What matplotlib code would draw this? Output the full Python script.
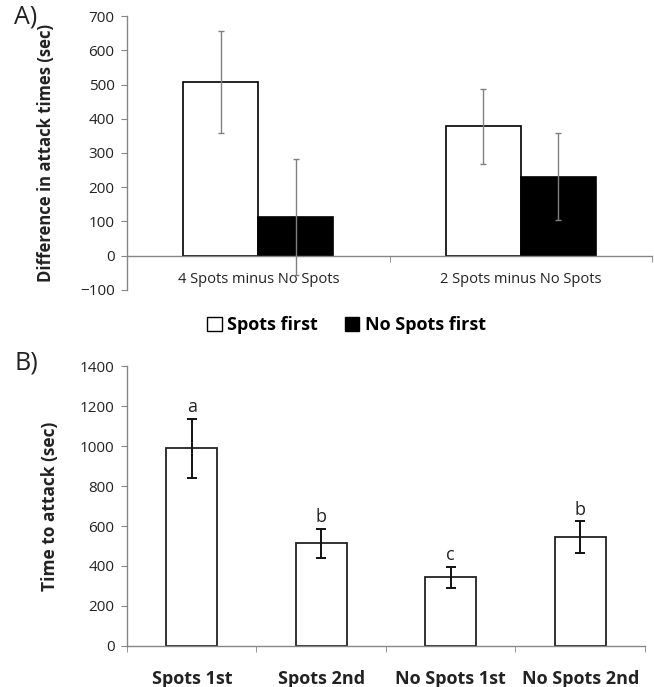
import matplotlib
matplotlib.use("Agg")
import matplotlib.pyplot as plt
from matplotlib.patches import Patch

plt.rcParams['font.family'] = ['Open Sans', 'DejaVu Sans']

# Panel A data
a_groups = ["4 Spots minus No Spots", "2 Spots minus No Spots"]
a_spots_first = [507, 378]
a_spots_first_err = [150, 110]
a_nospots_first = [113, 230]
a_nospots_first_err = [170, 127]

# Panel B data
b_groups = ["Spots 1st", "Spots 2nd", "No Spots 1st", "No Spots 2nd"]
b_values = [988, 514, 344, 545]
b_err = [146, 72, 53, 78]
b_letters = ["a", "b", "c", "b"]

axis_grey = "#868686"
text_col = "#222222"

fig = plt.figure(figsize=(6.54, 6.87), dpi=100)

# ---------- Panel A ----------
ax = fig.add_axes([0.1942, 0.5779, 0.803, 0.3988])
bw = 0.286
centers = [0.5, 1.5]
x1 = [c - bw / 2 for c in centers]
x2 = [c + bw / 2 for c in centers]
ax.bar(x1, a_spots_first, width=bw, color="white", edgecolor="black", linewidth=1.2, zorder=2)
ax.bar(x2, a_nospots_first, width=bw, color="black", edgecolor="black", linewidth=1.2, zorder=2)
ax.errorbar(x1, a_spots_first, yerr=a_spots_first_err, fmt="none", ecolor="#808080",
            elinewidth=1.0, capsize=2.5, capthick=1.0, zorder=3)
ax.errorbar(x2, a_nospots_first, yerr=a_nospots_first_err, fmt="none", ecolor="#808080",
            elinewidth=1.0, capsize=2.5, capthick=1.0, zorder=3)

ax.set_xlim(0, 2)
ax.set_ylim(-100, 700)
ax.set_yticks(range(-100, 701, 100))
ax.spines["top"].set_visible(False)
ax.spines["right"].set_visible(False)
ax.spines["bottom"].set_position(("data", 0))
for s in ["left", "bottom"]:
    ax.spines[s].set_color(axis_grey)
    ax.spines[s].set_linewidth(1.0)
ax.set_xticks([0, 1, 2], minor=True)
ax.set_xticks(centers)
ax.set_xticklabels(a_groups, fontsize=10.5, color=text_col)
ax.tick_params(axis="x", which="major", length=0, pad=12)
ax.tick_params(axis="x", which="minor", length=4, direction="out", color=axis_grey)
ax.tick_params(axis="y", length=4, direction="out", color=axis_grey, labelsize=11,
               labelcolor=text_col, pad=5)
ax.set_ylabel("Difference in attack times (sec)", fontsize=12, fontweight="bold",
              color=text_col, labelpad=18)

handles = [Patch(facecolor="white", edgecolor="black", linewidth=1.0, label="Spots first"),
           Patch(facecolor="black", edgecolor="black", label="No Spots first")]
fig.legend(handles=handles, loc="center", bbox_to_anchor=(0.53, 0.527), ncol=2,
           frameon=False, prop={"weight": "bold", "size": 13}, handlelength=0.8,
           handleheight=0.8, handletextpad=0.3, columnspacing=1.5)

fig.text(0.022, 0.975, "A)", fontsize=18, color=text_col, va="center", ha="left")

# ---------- Panel B ----------
bx = fig.add_axes([0.1942, 0.0597, 0.792, 0.4075])
bpos = [i + 0.5 for i in range(len(b_groups))]
bbw = 0.394
bx.bar(bpos, b_values, width=bbw, color="white", edgecolor="#222222", linewidth=1.3, zorder=2)
bx.errorbar(bpos, b_values, yerr=b_err, fmt="none", ecolor="#111111", elinewidth=1.4,
            capsize=3.5, capthick=1.4, zorder=3)
for p, v, e, let in zip(bpos, b_values, b_err, b_letters):
    bx.annotate(let, (p, v + e), xytext=(0, 2), textcoords="offset points",
                ha="center", va="bottom", fontsize=13, color=text_col)

bx.set_xlim(0, 4)
bx.set_ylim(0, 1400)
bx.set_yticks(range(0, 1401, 200))
bx.spines["top"].set_visible(False)
bx.spines["right"].set_visible(False)
for s in ["left", "bottom"]:
    bx.spines[s].set_color(axis_grey)
    bx.spines[s].set_linewidth(1.0)
bx.set_xticks([0, 1, 2, 3, 4], minor=True)
bx.set_xticks(bpos)
bx.set_xticklabels(b_groups, fontsize=13, fontweight="bold", color=text_col)
bx.tick_params(axis="x", which="major", length=0, pad=17)
bx.tick_params(axis="x", which="minor", length=4, direction="out", color=axis_grey)
bx.tick_params(axis="y", length=4, direction="out", color=axis_grey, labelsize=11,
               labelcolor=text_col, pad=5)
bx.set_ylabel("Time to attack (sec)", fontsize=12.5, fontweight="bold", color=text_col,
              labelpad=15)

fig.text(0.022, 0.4716, "B)", fontsize=18, color=text_col, va="center", ha="left")

fig.savefig("out.png", dpi=100)
